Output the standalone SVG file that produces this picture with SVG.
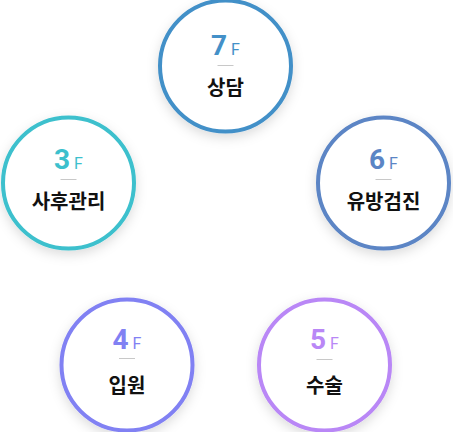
<svg xmlns="http://www.w3.org/2000/svg" width="453" height="432" viewBox="0 0 453 432">
<defs>
<filter id="sh" x="-30%" y="-30%" width="160%" height="160%">
<feDropShadow dx="0" dy="4" stdDeviation="6" flood-color="#000" flood-opacity="0.14"/>
</filter>
</defs>
<style>
.c{fill:#fff;stroke-width:4;filter:url(#sh)}
.n{font-family:Roboto,"Liberation Sans",sans-serif;font-weight:700;font-size:28px;text-anchor:middle}
.f{font-weight:400;font-size:16px}
.ln{stroke:#c8c8c8;stroke-width:1}
.t{font-family:"Noto Sans CJK KR","Noto Sans",sans-serif;font-weight:700;font-size:20px;text-anchor:middle;fill:#111}
</style>
<rect width="453" height="432" fill="#fff"/>
<g id="connectors"/>
<g id="n7">
<circle class="c" cx="225.5" cy="66" r="65.5" stroke="#4390c8"/>
<text class="n" x="225.5" y="55" fill="#4390c8">7<tspan class="f" dx="4">F</tspan></text>
<line class="ln" x1="217.5" y1="65.5" x2="233.5" y2="65.5"/>
<text class="t" x="225.5" y="95">상담</text>
</g>
<g id="n3">
<circle class="c" cx="68.5" cy="183" r="65.5" stroke="#3cc0cd"/>
<text class="n" x="68.5" y="169" fill="#3cc0cd">3<tspan class="f" dx="4">F</tspan></text>
<line class="ln" x1="60.5" y1="179.5" x2="76.5" y2="179.5"/>
<text class="t" x="68.5" y="209">사후관리</text>
</g>
<g id="n6">
<circle class="c" cx="383.5" cy="183" r="65.5" stroke="#5b85c5"/>
<text class="n" x="383.5" y="169" fill="#5b85c5">6<tspan class="f" dx="4">F</tspan></text>
<line class="ln" x1="375.5" y1="179.5" x2="391.5" y2="179.5"/>
<text class="t" x="383.5" y="209">유방검진</text>
</g>
<g id="n4">
<circle class="c" cx="127" cy="365" r="65.5" stroke="#8181f3"/>
<text class="n" x="127" y="349" fill="#8181f3">4<tspan class="f" dx="4">F</tspan></text>
<line class="ln" x1="119" y1="358.5" x2="135" y2="358.5"/>
<text class="t" x="127" y="393">입원</text>
</g>
<g id="n5">
<circle class="c" cx="324.5" cy="365" r="65.5" stroke="#b987f6"/>
<text class="n" x="324.5" y="349" fill="#b987f6">5<tspan class="f" dx="4">F</tspan></text>
<line class="ln" x1="316.5" y1="359.5" x2="332.5" y2="359.5"/>
<text class="t" x="324.5" y="393">수술</text>
</g>
</svg>
